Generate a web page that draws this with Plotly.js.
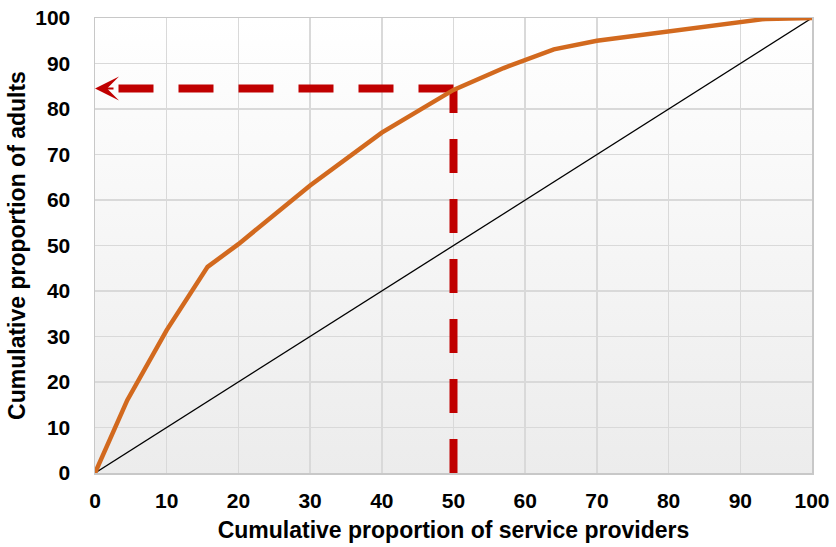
<!DOCTYPE html>
<html>
<head>
<meta charset="utf-8">
<script src="https://cdn.plot.ly/plotly-3.0.1.min.js"></script>
<style>html,body{margin:0;padding:0;background:#fff;}#chart{width:836px;height:547px;}</style>
</head>
<body>
<div id="chart"></div>
<script>
// Data
var curveX = [0, 4.5, 10, 15.7, 20, 30, 40, 50, 57, 64, 70, 80, 90, 93.5, 100];
var curveY = [0, 16, 31.4, 45.3, 50.3, 63.2, 74.8, 84.2, 89, 93.1, 95, 97, 99, 99.8, 100];
var equalityX = [0, 100];
var equalityY = [0, 100];
var markX = 50;      // 50% of service providers
var markY = 84.5;    // ~84.5% of adults
var arrowEndX = 2.8;
var tickVals = [0, 10, 20, 30, 40, 50, 60, 70, 80, 90, 100];

var red = '#C00000';
var traces = [
  {x: equalityX, y: equalityY, mode: 'lines', line: {color: '#000000', width: 1.3}, hoverinfo: 'skip'},
  {x: [markX, markX], y: [0, markY], mode: 'lines', line: {color: red, width: 8, dash: '34px,26px'}, hoverinfo: 'skip'},
  {x: [markX, arrowEndX], y: [markY, markY], mode: 'lines', line: {color: red, width: 8, dash: '35px,25px'}, hoverinfo: 'skip'},
  {x: curveX, y: curveY, mode: 'lines', line: {color: '#D2691E', width: 4.5}, hoverinfo: 'skip'}
];

var grad = 'data:image/svg+xml;utf8,' + encodeURIComponent(
  '<svg xmlns="http://www.w3.org/2000/svg" width="100" height="100" preserveAspectRatio="none">' +
  '<defs><linearGradient id="g" x1="0" y1="0" x2="0" y2="1">' +
  '<stop offset="0" stop-color="#FFFFFF"/><stop offset="1" stop-color="#ECECEC"/></linearGradient></defs>' +
  '<rect width="100" height="100" fill="url(#g)"/></svg>');

var fam = 'Liberation Sans, Arial, sans-serif';
var layout = {
  width: 836, height: 547,
  margin: {l: 95, r: 24, t: 18, b: 74},
  paper_bgcolor: '#ffffff',
  plot_bgcolor: 'rgba(0,0,0,0)',
  showlegend: false,
  font: {family: fam, size: 21, color: '#000'},
  images: [{source: grad, xref: 'paper', yref: 'paper', x: 0, y: 1, sizex: 1, sizey: 1,
            sizing: 'stretch', xanchor: 'left', yanchor: 'top', layer: 'below'}],
  xaxis: {
    range: [0, 100], tickvals: tickVals, ticktext: tickVals.map(String),
    showgrid: true, gridcolor: '#D9D9D9', gridwidth: 1.5,
    showline: true, linecolor: '#C8C8C8', linewidth: 1.5, mirror: true,
    zeroline: false, ticks: '', ticklabelstandoff: 8,
    tickfont: {family: fam, size: 21, color: '#000', weight: 'bold'},
    title: {text: '<b>Cumulative proportion of service providers</b>', font: {family: fam, size: 23, color: '#000'}, standoff: 11}
  },
  yaxis: {
    range: [0, 100], tickvals: tickVals, ticktext: tickVals.map(String),
    showgrid: true, gridcolor: '#D9D9D9', gridwidth: 1.5,
    showline: true, linecolor: '#C8C8C8', linewidth: 1.5, mirror: true,
    zeroline: false, ticks: '', ticklabelstandoff: 19,
    tickfont: {family: fam, size: 21, color: '#000', weight: 'bold'},
    title: {text: '<b>Cumulative proportion of adults</b>', font: {family: fam, size: 23, color: '#000'}, standoff: 3}
  },
  annotations: [{
    x: 0, y: markY, xref: 'x', yref: 'y', text: '', showarrow: true,
    arrowhead: 3, arrowsize: 2, arrowwidth: 2, arrowcolor: red,
    ax: 20, ay: 0
  }]
};

Plotly.newPlot('chart', traces, layout, {displayModeBar: false, staticPlot: true});
</script>
</body>
</html>
